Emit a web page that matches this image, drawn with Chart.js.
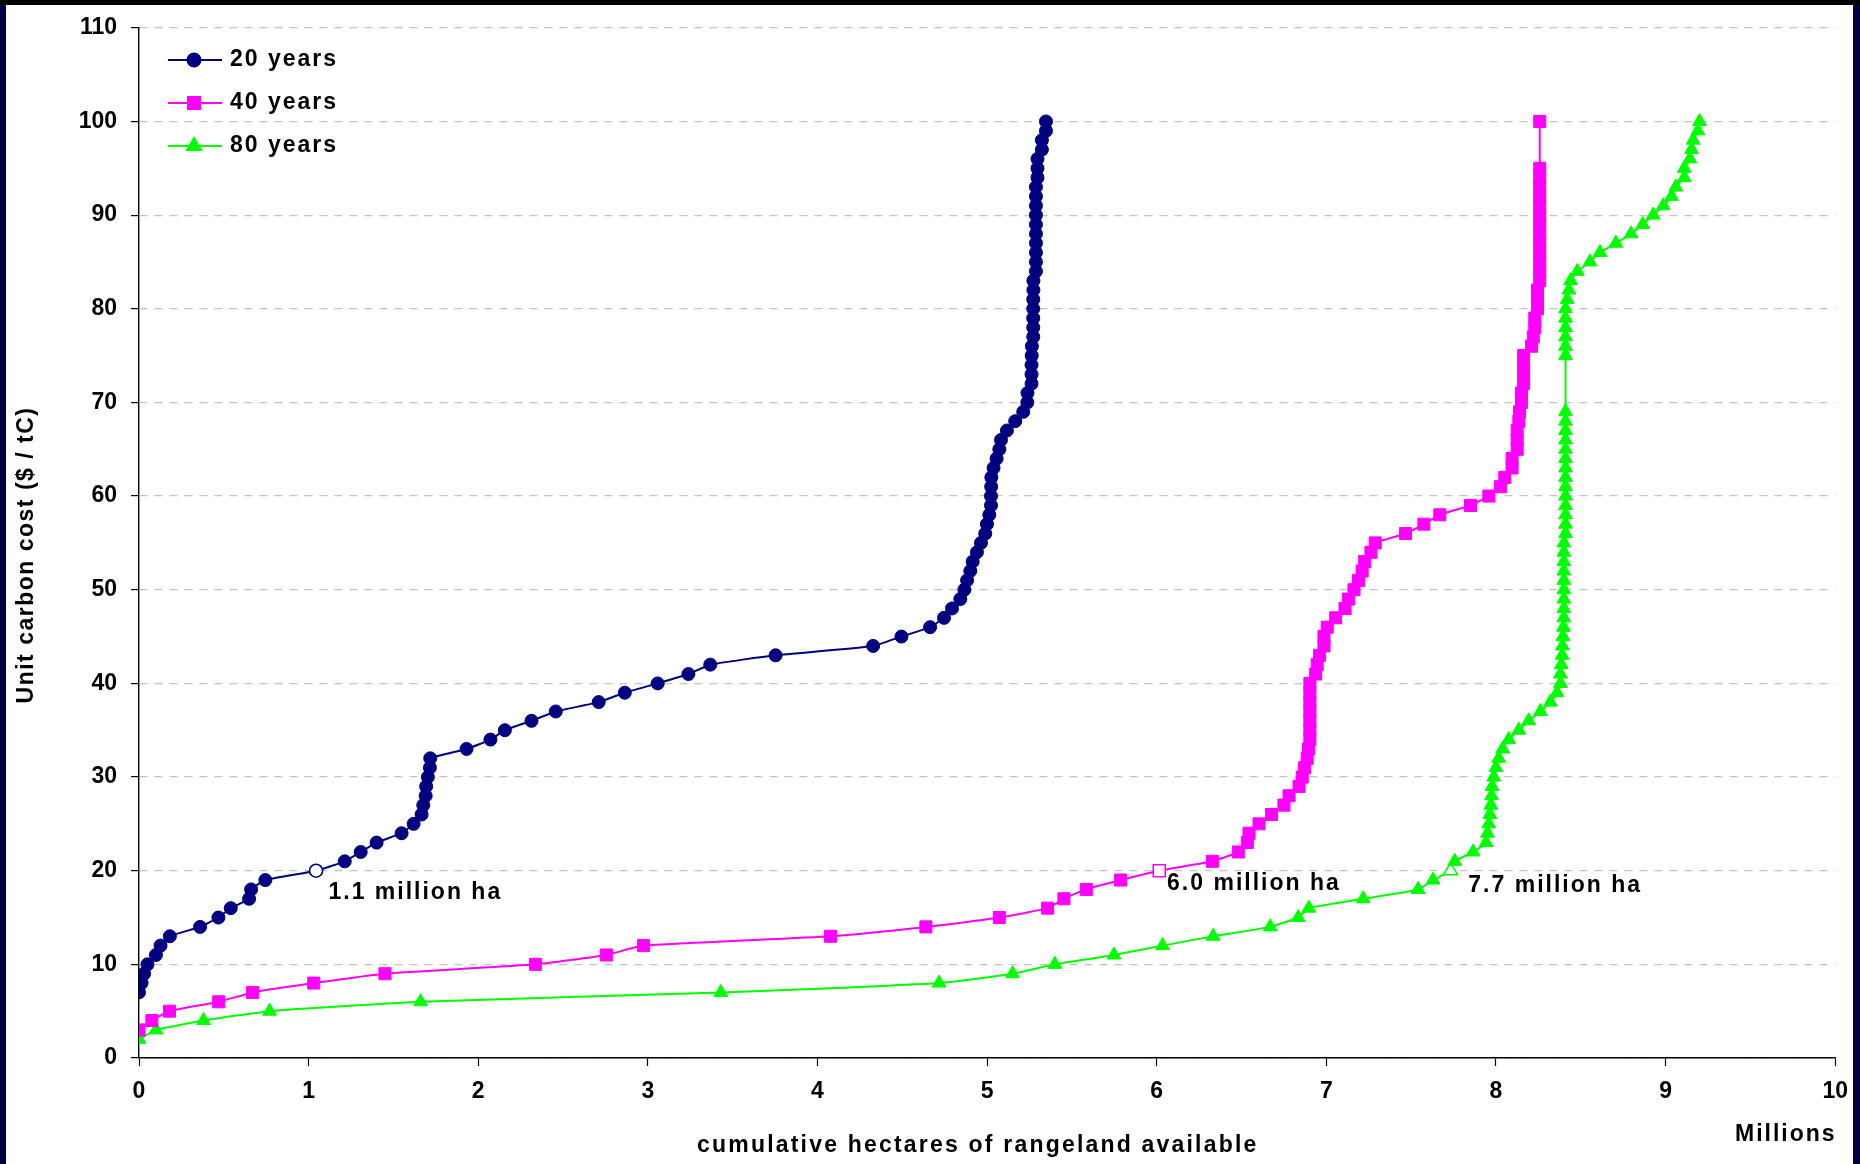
<!DOCTYPE html>
<html><head><meta charset="utf-8">
<script src="https://cdn.jsdelivr.net/npm/chart.js@4/dist/chart.umd.min.js"></script>
<style>html,body{margin:0;padding:0;background:#000;}canvas{display:block}</style>
</head><body>
<canvas id="c" width="1860" height="1164"></canvas>
<script>
// ---- DATA (x = cumulative hectares, millions; y = unit carbon cost $/tC) ----
const seriesNames = ['20 years', '40 years', '80 years'];

const cost20 = [7,8,9,10,11,12,13,14,15,16,
  17,18,19,20,21,22,23,24,25,26,
  27,28,29,30,31,32,33,34,35,36,
  37,38,39,40,41,42,43,44,45,46,
  47,48,49,50,51,52,53,54,55,56,
  57,58,59,60,61,62,63,64,65,66,
  67,68,69,70,71,72,73,74,75,76,
  77,78,79,80,81,82,83,84,85,86,
  87,88,89,90,91,92,93,94,95,96,
  97,98,99,100];
const hect20 = [0.00,0.015,0.03,0.05,0.10,0.127,0.182,0.36,0.468,0.541,
  0.649,0.661,0.745,1.044,1.213,1.307,1.401,1.548,1.619,1.666,
  1.676,1.69,1.693,1.703,1.715,1.717,1.931,2.072,2.157,2.314,
  2.457,2.71,2.864,3.058,3.239,3.368,3.753,4.328,4.495,4.664,
  4.746,4.793,4.842,4.866,4.882,4.901,4.915,4.94,4.964,4.989,
  4.999,5.013,5.023,5.023,5.024,5.025,5.038,5.056,5.072,5.082,
  5.117,5.166,5.213,5.237,5.238,5.262,5.262,5.262,5.263,5.264,
  5.272,5.272,5.272,5.272,5.272,5.273,5.273,5.288,5.288,5.288,
  5.288,5.288,5.288,5.288,5.288,5.288,5.288,5.297,5.297,5.297,
  5.323,5.323,5.347,5.347];

const cost40 = [3,4,5,6,7,8,9,10,11,12,
  13,14,15,16,17,18,19,20,21,22,
  23,24,25,26,27,28,29,30,31,32,
  33,34,35,36,37,38,39,40,41,42,
  43,44,45,46,47,48,49,50,51,52,
  53,54,55,56,57,58,59,60,61,62,
  63,64,65,66,67,68,69,70,71,72,
  73,74,75,76,77,78,79,80,81,82,
  83,84,85,86,87,88,89,90,91,92,
  93,94,95,100];
const hect40 = [0.00,0.076,0.18,0.47,0.67,1.03,1.45,2.337,2.755,2.975,
  4.077,4.639,5.072,5.357,5.453,5.585,5.787,6.015,6.328,6.481,
  6.534,6.544,6.603,6.677,6.75,6.78,6.839,6.858,6.872,6.887,
  6.895,6.903,6.903,6.903,6.903,6.903,6.903,6.903,6.937,6.946,
  6.96,6.986,6.986,7.005,7.055,7.11,7.13,7.163,7.19,7.211,
  7.226,7.263,7.288,7.467,7.575,7.669,7.85,7.958,8.026,8.052,
  8.095,8.095,8.125,8.125,8.125,8.135,8.139,8.15,8.15,8.163,
  8.163,8.163,8.163,8.21,8.22,8.229,8.229,8.245,8.245,8.245,
  8.258,8.258,8.258,8.258,8.258,8.258,8.258,8.258,8.258,8.258,
  8.258,8.258,8.258,8.258];

const cost80 = [2,3,4,5,6,7,8,9,10,11,
  12,13,14,15,16,17,18,19,20,21,
  22,23,24,25,26,27,28,29,30,31,
  32,33,34,35,36,37,38,39,40,41,
  42,43,44,45,46,47,48,49,50,51,
  52,53,54,55,56,57,58,59,60,61,
  62,63,64,65,66,67,68,69,
  75,76,77,78,79,80,81,82,83,84,
  85,86,87,88,89,90,91,92,93,94,
  95,96,97,98,99,100];
const hect80 = [0.00,0.10,0.38,0.77,1.66,3.43,4.717,5.15,5.399,5.748,
  6.034,6.333,6.669,6.834,6.897,7.217,7.541,7.629,7.732,7.757,
  7.865,7.942,7.95,7.958,7.964,7.97,7.974,7.977,7.987,8.0,
  8.016,8.04,8.075,8.134,8.193,8.262,8.321,8.36,8.38,8.38,
  8.385,8.39,8.392,8.395,8.398,8.40,8.40,8.40,8.40,8.40,
  8.40,8.40,8.40,8.40,8.41,8.41,8.41,8.41,8.41,8.41,
  8.41,8.41,8.41,8.41,8.41,8.41,8.41,8.41,
  8.41,8.41,8.41,8.41,8.41,8.41,8.42,8.43,8.44,8.48,
  8.554,8.613,8.707,8.796,8.865,8.927,8.986,9.035,9.06,9.11,
  9.11,9.143,9.153,9.163,9.19,9.2];

const hollowCost = 20;           // the $20/tC point of each series is drawn hollow
const xTickValues = [0,1,2,3,4,5,6,7,8,9,10];
const yTickValues = [0,10,20,30,40,50,60,70,80,90,100,110];
const noteTexts = ['1.1 million ha', '6.0 million ha', '7.7 million ha'];
const noteAt = [[1.117, 17.7], [6.061, 18.6], [7.837, 18.35]];   // data coords of label left/middle
const xTitle = 'cumulative hectares of rangeland available';
const xUnit = 'Millions';
const yTitle = 'Unit carbon cost ($ / tC)';

// ---- STYLE ----
const FONT = '"Liberation Sans", Arial, Helvetica, sans-serif';
const colors = ['#000080', '#FF00FF', '#00FF00'];
const styles = ['circle', 'rect', 'triangle'];
const radii = [6.5, 8.5, 8];

function pts(xs, ys) { return xs.map((x, i) => ({x: x, y: ys[i]})); }
const allData = [pts(hect20, cost20), pts(hect40, cost40), pts(hect80, cost80)];

const datasets = allData.map((d, i) => ({
  label: seriesNames[i],
  data: d,
  borderColor: colors[i],
  backgroundColor: colors[i],
  borderWidth: 2,
  tension: 0.15,
  pointStyle: styles[i],
  pointRadius: radii[i],
  pointHoverRadius: radii[i],
  pointBorderColor: colors[i],
  pointBorderWidth: ctx => (ctx.raw && ctx.raw.y === hollowCost) ? 1.6 : 1,
  pointBackgroundColor: ctx => (ctx.raw && ctx.raw.y === hollowCost) ? '#ffffff' : colors[i],
  order: i
}));

const framePlugin = {
  id: 'frame',
  beforeDraw(chart) {
    const ctx = chart.ctx;
    ctx.save();
    ctx.fillStyle = '#000040';
    ctx.fillRect(0, 0, chart.width, chart.height);
    ctx.fillStyle = '#000000';
    ctx.fillRect(0, 0, chart.width, 5);
    ctx.fillStyle = '#ffffff';
    ctx.fillRect(6, 5, chart.width - 13, chart.height - 5);
    ctx.restore();
  },
  afterDraw(chart) {
    const ctx = chart.ctx;
    const xs = chart.scales.x, ys = chart.scales.y;
    ctx.save();
    ctx.fillStyle = '#000';
    ctx.font = 'bold 23px ' + FONT;
    ctx.letterSpacing = '2px';
    ctx.textBaseline = 'middle';
    ctx.textAlign = 'left';
    // annotations
    noteTexts.forEach((t, i) => {
      ctx.fillText(t, xs.getPixelForValue(noteAt[i][0]), ys.getPixelForValue(noteAt[i][1]));
    });
    // axis titles
    ctx.letterSpacing = '2.2px';
    ctx.fillText(xTitle, 697, 1146);
    ctx.letterSpacing = '2px';
    ctx.fillText(xUnit, 1735, 1135);
    ctx.save();
    ctx.translate(27, 555);
    ctx.rotate(-Math.PI / 2);
    ctx.textAlign = 'center';
    ctx.letterSpacing = '1.5px';
    ctx.fillText(yTitle, 0, 0);
    ctx.restore();
    // legend
    ctx.letterSpacing = '2px';
    chart.data.datasets.forEach((ds, i) => {
      const y = 60 + i * 43;
      ctx.strokeStyle = colors[i];
      ctx.lineWidth = 2;
      ctx.beginPath(); ctx.moveTo(168, y); ctx.lineTo(222, y); ctx.stroke();
      ctx.fillStyle = colors[i];
      Chart.helpers.drawPoint(ctx, {pointStyle: styles[i], radius: radii[i], borderWidth: 1, rotation: 0}, 194, y);
      ctx.fillStyle = '#000';
      ctx.fillText(ds.label, 230, y);
    });
    ctx.restore();
  }
};

new Chart(document.getElementById('c'), {
  type: 'line',
  data: {datasets: datasets},
  plugins: [framePlugin],
  options: {
    responsive: false,
    animation: false,
    devicePixelRatio: 1,
    layout: {padding: {top: 27, right: 23, left: 0, bottom: 0}},
    plugins: {legend: {display: false}, tooltip: {enabled: false}},
    scales: {
      x: {
        type: 'linear', min: 0, max: 10,
        afterBuildTicks: s => { s.ticks = xTickValues.map(v => ({value: v})); },
        afterFit: s => { s.height = 106; },
        grid: {drawOnChartArea: false, drawTicks: true, tickLength: 8, tickColor: '#000', tickWidth: 1.2},
        border: {color: '#000', width: 1.6},
        ticks: {color: '#000', font: {family: FONT, size: 23, weight: 'bold'}, padding: 12, maxRotation: 0, autoSkip: false}
      },
      y: {
        type: 'linear', min: 0, max: 110,
        afterBuildTicks: s => { s.ticks = yTickValues.map(v => ({value: v})); },
        afterFit: s => { s.width = 139; },
        grid: {color: '#c4c4c4', lineWidth: 1.2, tickColor: '#000', tickLength: 8, tickWidth: 1.2},
        border: {color: '#000', width: 1.4, dash: [8, 7]},
        ticks: {color: '#000', font: {family: FONT, size: 23, weight: 'bold'}, padding: 14, autoSkip: false}
      }
    }
  }
});
</script>
</body></html>
